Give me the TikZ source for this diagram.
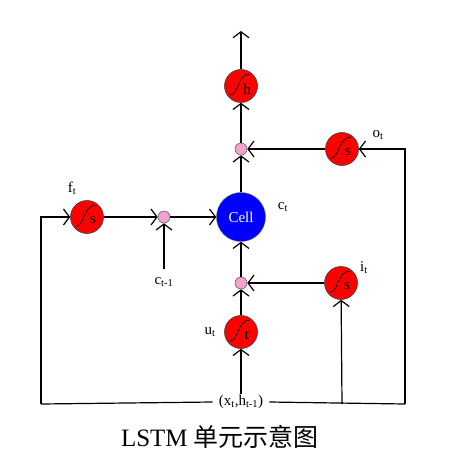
\documentclass[tikz,border=0pt]{standalone}
\usepackage{fontspec}
\setmainfont{Liberation Serif}
\newfontfamily\cjk{Noto Sans CJK SC}
\usetikzlibrary{arrows.meta}
\definecolor{gatered}{RGB}{255,0,0}
\definecolor{cellblue}{RGB}{0,0,255}
\definecolor{multpink}{RGB}{245,160,205}
\tikzset{
  gate/.style={circle, draw=black!75, fill=gatered, minimum size=33pt, inner sep=0pt, line width=0.6pt},
  mult/.style={circle, draw=black!60, fill=multpink, minimum size=12pt, inner sep=0pt, line width=0.6pt},
  cellnode/.style={circle, draw=black!60, fill=cellblue, minimum size=49pt, inner sep=0pt, text=white, font=\fontsize{15}{17}\selectfont},
  lbl/.style={font=\fontsize{15}{17}\selectfont, inner sep=1pt},
  flow/.style={line width=1.2pt, -{Straight Barb[length=6pt,width=16pt,line width=1.2pt]}},
  wire/.style={line width=1.2pt},
  sig/.style={line width=0.7pt, black}
}
\newcommand\gatesym[2]{%
  \draw[sig] ([shift={(-11,9)}]#1.center) .. controls ([shift={(-2,9)}]#1.center) and ([shift={(-4,-12)}]#1.center) .. ([shift={(9,-12)}]#1.center);
  \node[font=\fontsize{15}{17}\selectfont, inner sep=0pt] at ([shift={(6,3)}]#1.center) {#2};}
\begin{document}
\begin{tikzpicture}[x=1pt,y=-1pt]
\useasboundingbox (0,0) rectangle (466,469);
% nodes
\node[gate] (h) at (241,86) {};
\node[mult] (mt) at (241,149) {};
\node[gate] (o) at (342,149) {};
\node[cellnode] (cell) at (241,217) {Cell};
\node[gate] (f) at (87,217) {};
\node[mult] (ml) at (164,217) {};
\node[mult] (mb) at (241,283) {};
\node[gate] (i) at (341,283) {};
\node[gate] (u) at (241,332) {};
\node[lbl, inner xsep=6pt] (xh) at (241,402) {(x\textsubscript{t},h\textsubscript{t-1})};
\node[lbl] (cm) at (164,282) {c\textsubscript{t-1}};
\coordinate (top) at (241,31);
\coordinate (cmtop) at (164,269);
\coordinate (bl) at (41,404);
\coordinate (br) at (405,404);
\coordinate (ib) at (342,404);
% labels
\node[lbl] (lf) at (72,188) {f\textsubscript{t}};
\node[lbl] (lo) at (378,135) {o\textsubscript{t}};
\node[lbl] (li) at (364,268) {i\textsubscript{t}};
\node[lbl] (lu) at (210,332) {u\textsubscript{t}};
\node[lbl] (lc) at (283,207) {c\textsubscript{t}};
% gate symbols
\gatesym{h}{h}
\gatesym{o}{s}
\gatesym{f}{s}
\gatesym{i}{s}
\gatesym{u}{t}
% connectors
\draw[flow] (h) -- (top);
\draw[flow] (mt) -- (h);
\draw[flow] (cell) -- (mt);
\draw[flow] (o) -- (mt);
\draw[flow] (br) -- (br |- o) -- (o);
\draw[flow] (f) -- (ml);
\draw[flow] (ml) -- (cell);
\draw[flow] (cmtop) -- (ml);
\draw[flow] (bl) -- (bl |- f) -- (f);
\draw[flow] (mb) -- (cell);
\draw[flow] (i) -- (mb);
\draw[flow] (u) -- (mb);
\draw[flow] (xh) -- (u);
\draw[flow] (ib) -- (i);
\draw[wire] (bl) -- (xh.west);
\draw[wire] (xh.east) -- (br);
% caption
\node[font=\fontsize{25}{29}\selectfont, inner sep=0pt] (cap) at (220,437) {LSTM {\cjk 单元示意图}};
\end{tikzpicture}
\end{document}
